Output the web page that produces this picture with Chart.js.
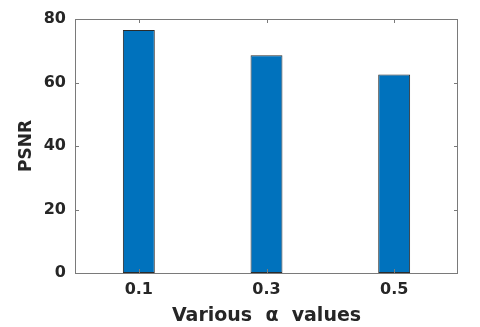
<!DOCTYPE html>
<html>
<head>
<meta charset="utf-8">
<script src="https://cdn.jsdelivr.net/npm/chart.js@4"></script>
<style>
  html, body { margin: 0; padding: 0; background: #fff; }
  #wrap { width: 480px; height: 327px; position: relative; }
</style>
</head>
<body>
<div id="wrap"><canvas id="chart" width="480" height="327"></canvas></div>
<script>
// ---------- DATA ----------
const alphas = ["0.1", "0.3", "0.5"];
const psnr = [76.5, 68.6, 62.5];
const yTicks = [0, 20, 40, 60, 80];

const axisColor = "#7a7a7a";
const font = "'DejaVu Sans', 'Liberation Sans', Arial, sans-serif";

// MATLAB-style box with inward ticks on all four sides
const boxPlugin = {
  id: "box",
  afterDatasetsDraw(chart) {
    const { ctx, chartArea: a, scales } = chart;
    const t = 4;
    ctx.save();
    ctx.strokeStyle = axisColor;
    ctx.lineWidth = 1;
    ctx.beginPath();
    ctx.rect(a.left + 0.5, a.top + 0.5, a.right - a.left - 1, a.bottom - a.top);
    yTicks.forEach(v => {
      const y = Math.round(scales.y.getPixelForValue(v)) + 0.5;
      ctx.moveTo(a.left, y); ctx.lineTo(a.left + t, y);
      ctx.moveTo(a.right, y); ctx.lineTo(a.right - t, y);
    });
    alphas.forEach((c, i) => {
      const x = Math.round(scales.x.getPixelForValue(i)) + 0.5;
      ctx.moveTo(x, a.bottom); ctx.lineTo(x, a.bottom - t);
      ctx.moveTo(x, a.top); ctx.lineTo(x, a.top + t);
    });
    ctx.stroke();
    ctx.restore();
  }
};

new Chart(document.getElementById("chart"), {
  type: "bar",
  data: {
    labels: alphas,
    datasets: [{
      data: psnr,
      backgroundColor: "#0072bd",
      borderColor: "#2b2b2b",
      borderWidth: 1,
      borderSkipped: false,
      barPercentage: 0.25,
      categoryPercentage: 1
    }]
  },
  options: {
    responsive: false,
    animation: false,
    layout: { padding: { left: 0, top: 19, right: 22, bottom: 0 } },
    plugins: { legend: { display: false }, tooltip: { enabled: false } },
    scales: {
      x: {
        grid: { display: false, drawTicks: false },
        border: { display: false },
        ticks: { color: "#262626", font: { family: font, size: 16, weight: "bold" }, padding: 7 },
        title: {
          display: true,
          text: "Various  \u03b1  values",
          color: "#262626",
          font: { family: font, size: 19, weight: "bold" },
          padding: { top: 1, bottom: 0 }
        },
        afterFit: s => { s.height = 54; }
      },
      y: {
        min: 0,
        max: 80,
        afterBuildTicks: s => { s.ticks = yTicks.map(v => ({ value: v })); },
        grid: { display: false, drawTicks: false },
        border: { display: false },
        ticks: { color: "#262626", font: { family: font, size: 16, weight: "bold" }, padding: 9 },
        title: {
          display: true,
          text: "PSNR",
          color: "#262626",
          font: { family: font, size: 17, weight: "bold" },
          padding: { top: 16, bottom: 4 }
        },
        afterFit: s => { s.width = 75; }
      }
    }
  },
  plugins: [boxPlugin]
});
</script>
</body>
</html>
